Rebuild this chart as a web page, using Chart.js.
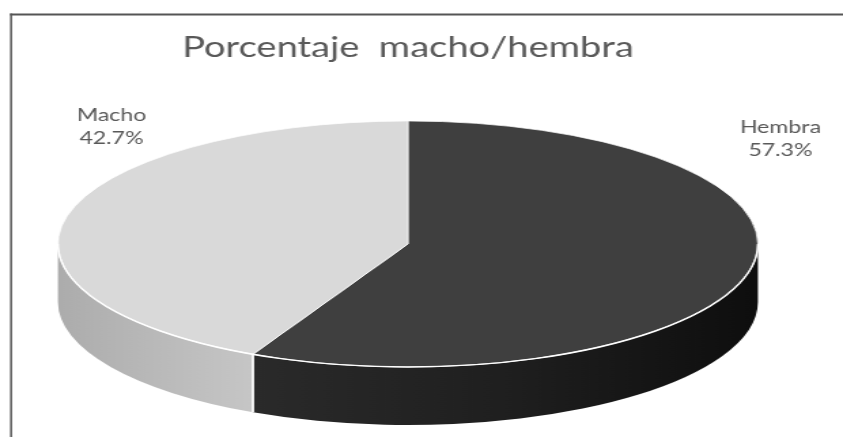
<!DOCTYPE html>
<html><head><meta charset="utf-8">
<script src="https://cdn.jsdelivr.net/npm/chart.js@4.4.1/dist/chart.umd.min.js"></script>
<style>html,body{margin:0;padding:0;background:#fff;overflow:hidden}</style></head>
<body><canvas id="c" width="620" height="437" style="display:block;width:843px;height:437px"></canvas>
<script>
const chartTitle = 'Porcentaje  macho/hembra';
const categories = ['Hembra', 'Macho'];
const values = [57.3, 42.7];
const topColors = ['#3f3f3f', '#d9d9d9'];
const sideColors = [['#2a2a2a', '#1f1f1f', '#0e0e0e'], ['#acacac', '#c6c6c6']];

const framePlugin = {
  id: 'frame',
  beforeDraw(chart) {
    const ctx = chart.ctx;
    ctx.save();
    ctx.fillStyle = '#ffffff';
    ctx.fillRect(0, 0, chart.width, chart.height);
    ctx.fillStyle = '#555555';
    ctx.fillRect(7.4, 13.5, chart.width - 7.4, 2);
    ctx.fillRect(7.4, 13.5, 1.5, chart.height - 13.5);
    ctx.restore();
  }
};

const pie3d = {
  id: 'pie3d',
  beforeDatasetsDraw(chart, args, o) {
    const ctx = chart.ctx;
    const arcs = chart.getDatasetMeta(0).data;
    const a0 = arcs[0];
    const cx = a0.x, rx = a0.outerRadius, ry = rx * o.squash, cy = o.centerY, d = o.depth;
    arcs.forEach((arc, i) => {
      const s = Math.max(arc.startAngle, 0), e = Math.min(arc.endAngle, Math.PI);
      if (e <= s) return;
      const xmin = Math.min(cx + rx * Math.cos(s), cx + rx * Math.cos(e));
      const xmax = Math.max(cx + rx * Math.cos(s), cx + rx * Math.cos(e));
      const g = ctx.createLinearGradient(xmin, 0, xmax, 0);
      const st = o.sideColors[i];
      st.forEach((c, j) => g.addColorStop(st.length === 1 ? 0 : j / (st.length - 1), c));
      ctx.beginPath();
      ctx.ellipse(cx, cy, rx, ry, 0, s, e, false);
      ctx.ellipse(cx, cy + d, rx, ry, 0, e, s, true);
      ctx.closePath();
      ctx.fillStyle = g;
      ctx.fill();
    });
    ctx.save();
    ctx.translate(0, cy);
    ctx.scale(1, o.squash);
    ctx.translate(0, -a0.y);
  },
  afterDatasetsDraw(chart, args, o) {
    const ctx = chart.ctx;
    ctx.restore();
    const arcs = chart.getDatasetMeta(0).data;
    const a0 = arcs[0];
    const cx = a0.x, rx = a0.outerRadius, ry = rx * o.squash, cy = o.centerY, d = o.depth;
    ctx.save();
    ctx.strokeStyle = '#ffffff';
    ctx.lineWidth = 1.4;
    ctx.beginPath();
    ctx.ellipse(cx, cy, rx, ry, 0, 0, Math.PI, false);
    ctx.stroke();
    arcs.forEach(arc => {
      [arc.startAngle, arc.endAngle].forEach(a => {
        const an = ((a % (2 * Math.PI)) + 2 * Math.PI) % (2 * Math.PI);
        if (an > 0.01 && an < Math.PI - 0.01) {
          const x = cx + rx * Math.cos(an), y = cy + ry * Math.sin(an);
          ctx.lineWidth = 1.3;
          ctx.beginPath(); ctx.moveTo(x, y); ctx.lineTo(x, y + d); ctx.stroke();
        }
      });
    });
    ctx.restore();
  }
};

const sliceLabels = {
  id: 'sliceLabels',
  afterDraw(chart, args, o) {
    const ctx = chart.ctx;
    const ds = chart.data.datasets[0].data;
    const total = ds.reduce((a, b) => a + b, 0);
    ctx.save();
    ctx.font = o.font;
    ctx.fillStyle = o.color;
    ctx.textAlign = 'center';
    ctx.textBaseline = 'alphabetic';
    chart.data.labels.forEach((lab, i) => {
      const p = o.positions[i];
      ctx.fillText(lab, p[0], p[1]);
      ctx.fillText((ds[i] / total * 100).toFixed(1) + '%', p[0], p[1] + o.lineGap);
    });
    ctx.restore();
  }
};

new Chart(document.getElementById('c'), {
  type: 'pie',
  data: {
    labels: categories,
    datasets: [{
      data: values,
      backgroundColor: topColors,
      borderColor: '#ffffff',
      borderWidth: 1,
      hoverOffset: 0,
      clip: false
    }]
  },
  options: {
    responsive: false,
    devicePixelRatio: 1,
    animation: false,
    radius: 257.4,
    layout: { padding: { left: 0, right: 20, top: 0, bottom: 0 } },
    plugins: {
      legend: { display: false },
      tooltip: { enabled: false },
      title: {
        display: true,
        text: chartTitle,
        color: '#595959',
        font: { family: 'Lato', size: 28, weight: 'normal' },
        padding: { top: 31, bottom: 10 }
      },
      pie3d: { squash: 0.478, centerY: 244, depth: 58, sideColors: sideColors },
      sliceLabels: {
        font: '17px Lato',
        color: '#595959',
        lineGap: 23,
        positions: [[574, 133], [82, 121]]
      }
    }
  },
  plugins: [framePlugin, pie3d, sliceLabels]
});
</script>
</body></html>
